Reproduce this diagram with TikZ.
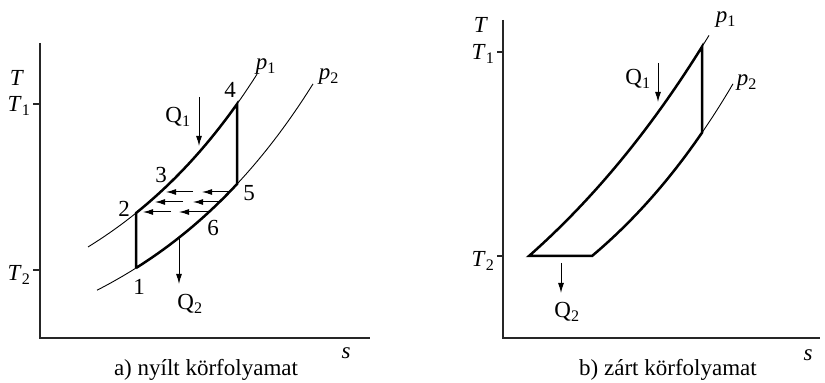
\documentclass[tikz,border=0pt]{standalone}
\usepackage{fontspec}
\setmainfont{Liberation Serif}
\usepackage{tikz}
\usetikzlibrary{arrows, arrows.meta, positioning, calc}
\tikzset{
  >=latex,
  % tengelyek es gorbek
  axis/.style={line width=1.2pt,black!85},
  isobar/.style={line width=0.9pt,black},
  cycle line/.style={line width=2.5pt,black,line join=miter},
  heat/.style={-{Latex[length=10pt,width=6pt]},line width=1pt,black},
  lbl/.style={font=\fontsize{23}{27}\selectfont,inner sep=0pt},
  tick/.style={line width=1.2pt,black!85}
}
\newcommand{\sub}[2]{#1\textsubscript{#2}}

\begin{document}
\begin{tikzpicture}[x=1pt,y=1pt,
  declare function={pa(\x)=25.1+68.04*exp(\x/180);
                    pb(\x)=-4.7+58.5*exp(\x/190);
                    pc(\x)=-129.5+256.5*exp((\x-529)/290);
                    pd(\x)=-41.2+168.2*exp((\x-592)/200);}]
  \useasboundingbox (0,0) rectangle (825,383);
  % ---- a) nyilt korfolyamat
  \coordinate (ao) at (40,45);
  \coordinate (ay) at (40,340);
  \coordinate (ax) at (370,45);
  \draw[axis] (ay) -- (ao) -- (ax);
  \draw[tick] (33,279) coordinate (at1) -- (40,279);
  \draw[tick] (33,113) coordinate (at2) -- (40,113);
  \node[lbl] (aT) at (17,305) {\textit{T}};
  \node[lbl] (aT1) at (19,277) {\sub{\textit{T}}{1}};
  \node[lbl] (aT2) at (19,108) {\sub{\textit{T}}{2}};
  \node[lbl] (as) at (346,30) {\textit{s}};
  \node[lbl] (acap) at (206,13) {a) nyílt körfolyamat};
  % izobarok
  \draw[isobar,domain=88:257,samples=60] plot (\x,{pa(\x)});
  \draw[isobar,domain=97:313,samples=60] plot (\x,{pb(\x)});
  \node[lbl] (ap1) at (266,316) {\sub{\textit{p}}{1}};
  \node[lbl] (ap2) at (329,306) {\sub{\textit{p}}{2}};
  % korfolyamat
  \draw[cycle line] (136,{pb(136)}) -- plot[domain=136:237,samples=50] (\x,{pa(\x)})
    -- plot[domain=237:136,samples=50] (\x,{pb(\x)}) -- cycle;
  \node[lbl] (n1) at (139,96) {1};
  \node[lbl] (n2) at (124,174) {2};
  \node[lbl] (n3) at (161,208) {3};
  \node[lbl] (n4) at (230,293) {4};
  \node[lbl] (n5) at (249,190) {5};
  \node[lbl] (n6) at (213,155) {6};
  % regeneracio
  \foreach \y/\a/\b/\c/\d in {191/229/202/193/166, 181/220/193/183/155, 171/209/179/171/143}{
    \draw[heat] (\a,\y) -- (\b,\y);
    \draw[heat] (\c,\y) -- (\d,\y);
  }
  % hocserek
  \coordinate (aq1s) at (199,286);
  \coordinate (aq1e) at (199,237);
  \draw[heat] (aq1s) -- (aq1e);
  \node[lbl] (aQ1) at (178,266) {\sub{Q}{1}};
  \coordinate (aq2s) at (179,146);
  \coordinate (aq2e) at (179,99);
  \draw[heat] (aq2s) -- (aq2e);
  \node[lbl] (aQ2) at (190,79) {\sub{Q}{2}};

  % ---- b) zart korfolyamat
  \coordinate (bo) at (503,45);
  \coordinate (by) at (503,363);
  \coordinate (bx) at (820,45);
  \draw[axis] (by) -- (bo) -- (bx);
  \draw[tick] (497,331) -- (503,331);
  \draw[tick] (497,127) -- (503,127);
  \node[lbl] (bT) at (481,358) {\textit{T}};
  \node[lbl] (bT1) at (483,329) {\sub{\textit{T}}{1}};
  \node[lbl] (bT2) at (483,122) {\sub{\textit{T}}{2}};
  \node[lbl] (bs) at (808,28) {\textit{s}};
  \node[lbl] (bcap) at (668,13) {b) zárt körfolyamat};
  % izobarok (vekony vegek)
  \draw[isobar,domain=702:709,samples=10] plot (\x,{pc(\x)});
  \draw[isobar,domain=702:733,samples=20] plot (\x,{pd(\x)});
  \node[lbl] (bp1) at (726,363) {\sub{\textit{p}}{1}};
  \node[lbl] (bp2) at (747,300) {\sub{\textit{p}}{2}};
  % korfolyamat
  \draw[cycle line] (529,127) -- plot[domain=529:702,samples=60] (\x,{pc(\x)})
    -- plot[domain=702:592,samples=50] (\x,{pd(\x)}) -- cycle;
  % hocserek
  \coordinate (bq1s) at (658,320);
  \coordinate (bq1e) at (658,281);
  \draw[heat] (bq1s) -- (bq1e);
  \node[lbl] (bQ1) at (638,304) {\sub{Q}{1}};
  \coordinate (bq2s) at (561,120);
  \coordinate (bq2e) at (561,90);
  \draw[heat] (bq2s) -- (bq2e);
  \node[lbl] (bQ2) at (567,71) {\sub{Q}{2}};
\end{tikzpicture}
\end{document}
